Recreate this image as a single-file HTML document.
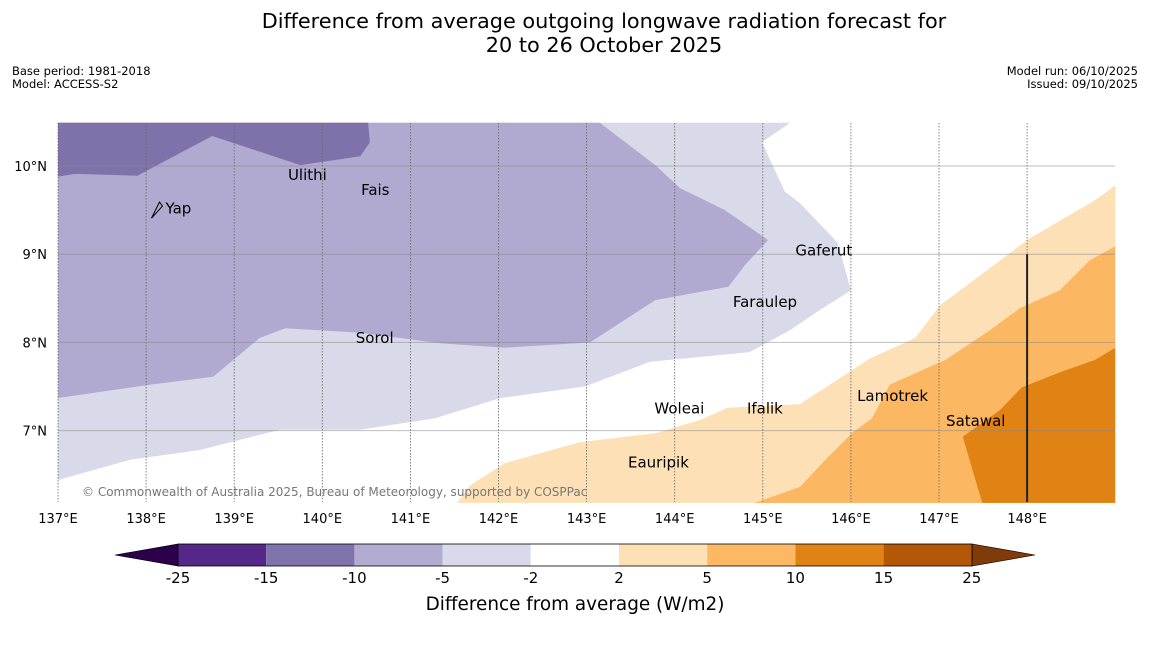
<!DOCTYPE html>
<html><head><meta charset="utf-8"><style>
body{margin:0;background:#fff;font-family:"DejaVu Sans","Liberation Sans",sans-serif}
</style></head><body>
<svg width="1150" height="644" xmlns="http://www.w3.org/2000/svg" font-family="DejaVu Sans, Liberation Sans, sans-serif">
<text x="604" y="28" font-size="20.8" text-anchor="middle">Difference from average outgoing longwave radiation forecast for</text>
<text x="604" y="52" font-size="20.8" text-anchor="middle">20 to 26 October 2025</text>
<text x="12" y="75" font-size="11.5">Base period: 1981-2018</text>
<text x="12" y="88" font-size="11.5">Model: ACCESS-S2</text>
<text x="1138" y="75" font-size="11.5" text-anchor="end">Model run: 06/10/2025</text>
<text x="1138" y="88" font-size="11.5" text-anchor="end">Issued: 09/10/2025</text>
<g id="map"></g>
<g id="cbar"></g>
</svg>
<script>
const NS="http://www.w3.org/2000/svg";
const lonTicks=[137,138,139,140,141,142,143,144,145,146,147,148];
const latTicks=[7,8,9,10];
const lvlLight=[[137,10.49],[145.31,10.49],[144.99,10.27],[145.25,9.71],[145.42,9.58],[145.85,9.13],[146.0,8.59],[145.65,8.37],[145.31,8.14],[144.85,7.89],[143.72,7.78],[142.98,7.5],[142.02,7.37],[141.28,7.14],[140.43,7.01],[139.52,7.01],[138.61,6.78],[137.82,6.67],[137,6.44]];
const lvlMed=[[137,10.49],[143.15,10.49],[143.78,10.01],[144.06,9.75],[144.57,9.5],[145.06,9.16],[144.8,8.88],[144.61,8.63],[143.78,8.48],[143.04,8.0],[142.07,7.94],[141.34,7.99],[140.43,8.11],[139.58,8.16],[139.29,8.05],[138.76,7.61],[138.04,7.52],[137,7.37]];
const lvlDark=[[137,10.49],[140.52,10.49],[140.54,10.27],[140.43,10.11],[139.75,10.01],[138.75,10.34],[137.9,9.89],[137.19,9.91],[137,9.88]];
const lvlO1=[[141.53,6.18],[141.68,6.38],[142.07,6.63],[142.93,6.87],[143.78,6.97],[144.29,7.12],[144.6,7.26],[145.42,7.3],[145.76,7.52],[146.22,7.82],[146.73,8.05],[147.01,8.42],[147.24,8.59],[148.03,9.18],[148.77,9.61],[149,9.78],[149,6.18]];
const lvlO2=[[144.91,6.18],[145.42,6.36],[145.76,6.72],[146.01,6.97],[146.24,7.14],[146.44,7.52],[147.07,7.8],[147.58,8.14],[147.92,8.39],[148.37,8.59],[148.71,8.93],[149,9.09],[149,6.18]];
const lvlO3=[[147.49,6.18],[147.27,6.93],[147.69,7.23],[147.94,7.49],[148.37,7.66],[148.77,7.8],[149,7.94],[149,6.18]];
const places=[["Yap",138.22,9.52],["Ulithi",139.61,9.9],["Fais",140.44,9.73],["Gaferut",145.37,9.04],["Faraulep",144.66,8.46],["Sorol",140.38,8.05],["Woleai",143.77,7.25],["Ifalik",144.82,7.25],["Lamotrek",146.07,7.39],["Satawal",147.08,7.11],["Eauripik",143.47,6.64]];
const cbBounds=[-25,-15,-10,-5,-2,2,5,10,15,25];
const cbColors=["#542788","#8073ac","#b2abd2","#d8daeb","#ffffff","#fee0b6","#fdb863","#e08214","#b35806"];
const X=lon=>58+(lon-137)*88.1, Y=lat=>166+(10-lat)*88.2;
const map=document.getElementById('map');
function mk(tag,attrs,parent){const e=document.createElementNS(NS,tag);for(const k in attrs)e.setAttribute(k,attrs[k]);parent.appendChild(e);return e;}
function poly(pts,fill,name){const e=mk('polygon',{points:pts.map(p=>X(p[0]).toFixed(1)+','+Y(p[1]).toFixed(1)).join(' '),fill:fill},map);

}
poly(lvlLight,"#d8d9e9","contour-minus2");
poly(lvlMed,"#b0a9d0","contour-minus5");
poly(lvlDark,"#7f72aa","contour-minus10");
poly(lvlO1,"#fde0b6","contour-plus2");
poly(lvlO2,"#fbb761","contour-plus5");
poly(lvlO3,"#e08214","contour-plus10");
for(const lat of latTicks){const l=mk('line',{x1:58,x2:1115,y1:Y(lat),y2:Y(lat),stroke:'#888',"stroke-opacity":0.55,"stroke-width":1},map);


const t=mk('text',{x:47,y:Y(lat)+5,"font-size":13,"text-anchor":"end"},map);t.textContent=lat+'°N';

}
for(const lon of lonTicks){const l=mk('line',{x1:X(lon),x2:X(lon),y1:123,y2:502,stroke:'#666',"stroke-dasharray":"1.5,1.5","stroke-width":0.8},map);


const t=mk('text',{x:X(lon),y:523,"font-size":13,"text-anchor":"middle"},map);t.textContent=lon+'°E';

}
const vl=mk('line',{x1:X(148),x2:X(148),y1:Y(9),y2:502,stroke:'#222',"stroke-width":2},map);


for(const p of places){const t=mk('text',{x:X(p[1]),y:Y(p[2])+5,"font-size":15},map);t.textContent=p[0];

}
const yi=mk('path',{d:`M${X(138.22)-14},${Y(9.5)+8} L${X(138.22)-6},${Y(9.5)-8} L${X(138.22)-3},${Y(9.5)-4} Z`,fill:'none',stroke:'#000',"stroke-width":1},map);


const cp=mk('text',{x:82,y:496,"font-size":12,fill:'#777'},map);cp.textContent='© Commonwealth of Australia 2025, Bureau of Meteorology, supported by COSPPac';


const cb=document.getElementById('cbar');
const CX=i=>178+i*88.2;
const lt=mk('polygon',{points:`115,555 178,544 178,566`,fill:'#2d004b',stroke:'#000',"stroke-width":0.6},cb);


const rt=mk('polygon',{points:`1035,555 972,544 972,566`,fill:'#7f3b08',stroke:'#000',"stroke-width":0.6},cb);


cbColors.forEach((c,i)=>{const r=mk('rect',{x:CX(i),y:544,width:88.2,height:22,fill:c},cb);

});
mk('rect',{x:178,y:544,width:794,height:22,fill:'none',stroke:'#000',"stroke-width":0.8},cb);
cbBounds.forEach((v,i)=>{const t=mk('text',{x:CX(i),y:583,"font-size":15,"text-anchor":"middle"},cb);t.textContent=v;

});
const ct=mk('text',{x:575,y:610,"font-size":18.4,"text-anchor":"middle"},cb);ct.textContent='Difference from average (W/m2)';


</script>
</body></html>
